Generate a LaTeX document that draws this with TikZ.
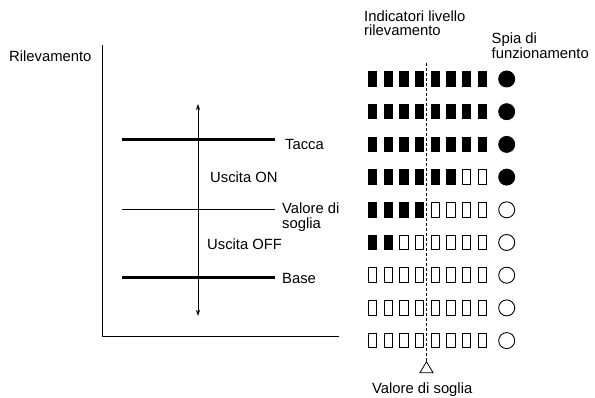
\documentclass[tikz,border=0pt]{standalone}
\usepackage{fontspec}
\setmainfont{Liberation Sans}
\usetikzlibrary{arrows.meta,shapes.geometric}

\begin{document}
\begin{tikzpicture}[x=1pt,y=-1pt,
  lbl/.style={font=\fontsize{14.8}{14.8}\selectfont, inner sep=0pt, align=left},
  axisline/.style={line width=1pt},
  levelthick/.style={line width=3pt},
  levelthin/.style={line width=1pt},
  rangearrow/.style={line width=0.8pt, {Stealth[length=6pt,width=4pt]}-{Stealth[length=6pt,width=4pt]}},
  segon/.style={draw, fill=black, line width=0.9pt, minimum width=8.3pt, minimum height=14.5pt, inner sep=0pt},
  segoff/.style={draw, fill=white, line width=0.9pt, minimum width=8.3pt, minimum height=14.5pt, inner sep=0pt},
  lampon/.style={circle, draw, fill=black, line width=0.9pt, minimum size=16pt, inner sep=0pt},
  lampoff/.style={circle, draw, fill=white, line width=0.9pt, minimum size=16pt, inner sep=0pt},
  thrdash/.style={line width=0.7pt, dash pattern=on 3pt off 2pt},
  marker/.style={isosceles triangle, isosceles triangle apex angle=62, shape border rotate=90,
    draw, line width=0.8pt, minimum height=11pt, inner sep=0pt, anchor=apex}
]
\useasboundingbox (0,0) rectangle (595,398);

% axes of the detection chart
\coordinate (ytop) at (102,45);
\coordinate (orig) at (102,337);
\coordinate (xend) at (339,337);
\draw[axisline] (ytop) -- (orig) -- (xend);
\node[lbl, anchor=base west] (ylab) at (9,62) {Rilevamento};

% level lines
\coordinate (taccaL) at (122,140);  \coordinate (taccaR) at (275,140);
\coordinate (sogliaL) at (122,210); \coordinate (sogliaR) at (275,210);
\coordinate (baseL) at (122,278);   \coordinate (baseR) at (275,278);
\draw[levelthick] (taccaL) -- (taccaR);
\draw[levelthin] (sogliaL) -- (sogliaR);
\draw[levelthick] (baseL) -- (baseR);

% range arrow
\coordinate (arrtop) at (198,104);
\coordinate (arrbot) at (198,316);
\draw[rangearrow] (arrbot) -- (arrtop);

% chart labels (two-line labels are placed by the baseline of their last line)
\node[lbl, anchor=base west] (tacca) at (285,150) {Tacca};
\node[lbl, anchor=base west] (uon) at (210,183) {Uscita ON};
\node[lbl, anchor=base west] (soglia) at (282,228.5) {Valore di\\soglia};
\node[lbl, anchor=base west] (uoff) at (207,250) {Uscita OFF};
\node[lbl, anchor=base west] (base) at (282,284) {Base};

% indicator headers
\node[lbl, anchor=base west] (hind) at (364,36) {Indicatori livello\\rilevamento};
\node[lbl, anchor=base west] (hspia) at (491.5,58.5) {Spia di\\funzionamento};

% threshold dashed line and marker
\coordinate (dtop) at (426.5,63);
\node[marker] (tri) at (426.5,361) {};
\draw[thrdash] (dtop) -- (tri.apex);
\node[lbl, anchor=base west] (vsoglia) at (372,393) {Valore di soglia};

% level indicator segments and operation lamp
\foreach \r/\n in {1/8,2/8,3/8,4/6,5/4,6/2,7/0,8/0,9/0} {
  \pgfmathsetmacro{\yy}{79+32.7*(\r-1)}
  \foreach \c in {1,...,8} {
    \pgfmathsetmacro{\xx}{372.5+15.7*(\c-1)}
    \ifnum\c>\n
      \node[segoff] (seg-\r-\c) at (\xx,\yy) {};
    \else
      \node[segon] (seg-\r-\c) at (\xx,\yy) {};
    \fi
  }
  \ifnum\r<5
    \node[lampon] (lamp-\r) at (506.7,\yy) {};
  \else
    \node[lampoff] (lamp-\r) at (506.7,\yy) {};
  \fi
}
\end{tikzpicture}
\end{document}
